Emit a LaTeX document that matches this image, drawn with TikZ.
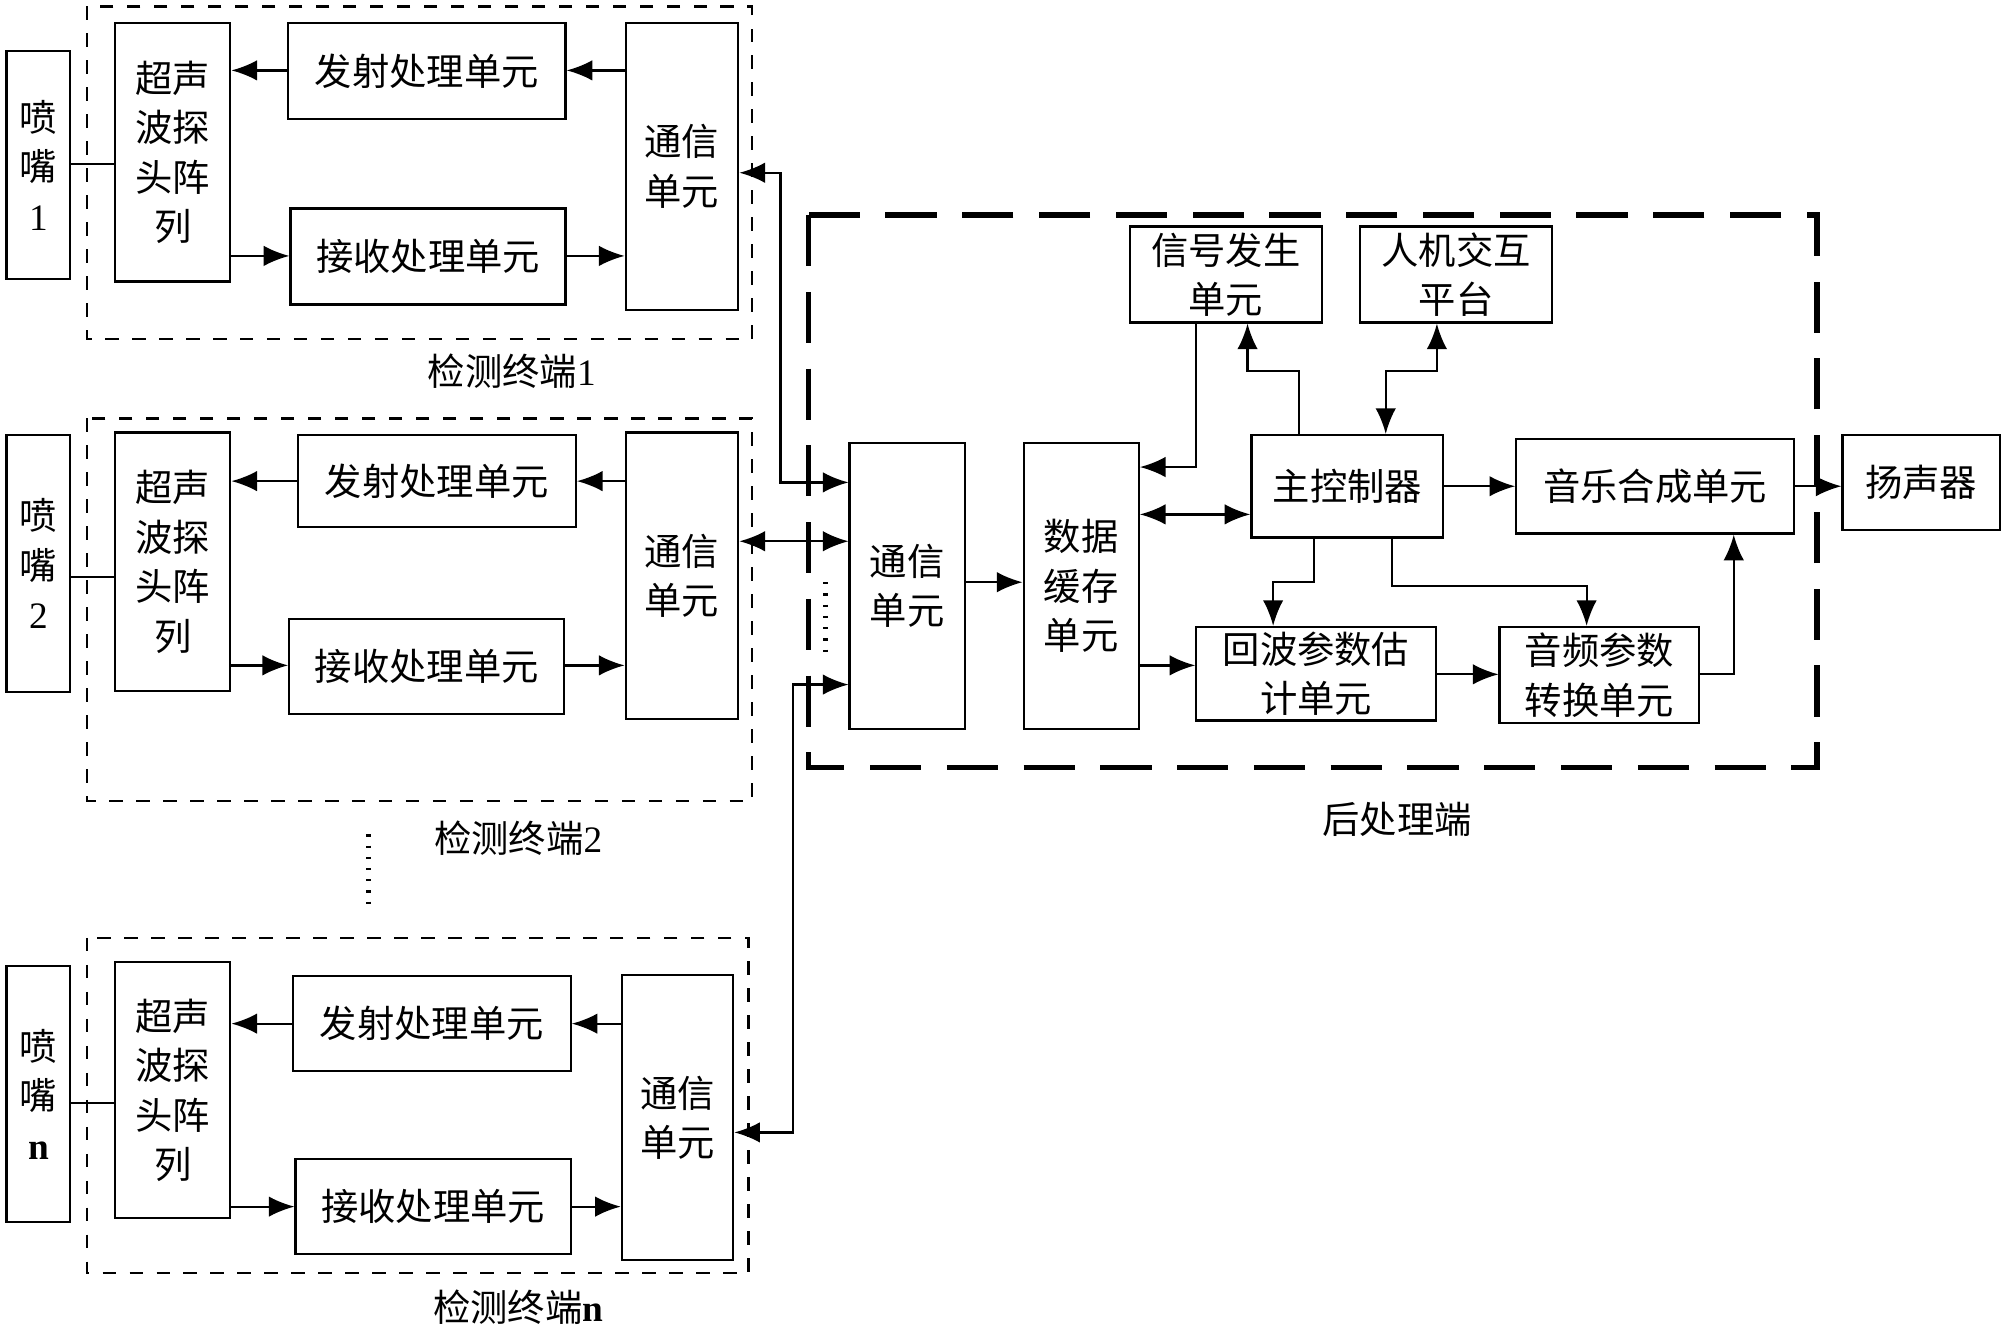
\documentclass[tikz,border=0pt]{standalone}
\usepackage{fontspec}
\setmainfont{Liberation Serif}
\newfontfamily\cjk{Noto Sans CJK SC}
\usetikzlibrary{arrows.meta}
\newcommand\bx[6]{\node[box,minimum width={(#4-#2)*0.1mm},minimum height={(#5-#3)*0.1mm}] (#1) at ({(#2+#4)/2},{(#3+#5)/2}) {#6};}
\begin{document}
\begin{tikzpicture}[x=0.1mm,y=-0.1mm,
 box/.style={draw,line width=0.5pt,inner sep=0pt,align=center,font=\cjk\fontsize{8.3}{11}\selectfont},
 lbl/.style={font=\cjk\fontsize{8.3}{11}\selectfont},
 arr/.style={line width=0.5pt,-{Latex[length=2mm,width=1.6mm]}},
 darr/.style={line width=0.5pt,{Latex[length=2mm,width=1.6mm]}-{Latex[length=2mm,width=1.6mm]}},
 ln/.style={line width=0.5pt},
 dbox/.style={draw,dashed,line width=0.5pt},
 bdbox/.style={draw,line width=1.2pt,dash pattern=on 4mm off 2mm}]
\useasboundingbox (0,0) rectangle (1567,1040);
% Terminal 1
\draw[dbox] (68,5) rectangle (588,265);
\bx{n1}{5}{40}{55}{218}{喷\\嘴\\{\rmfamily 1}}
\bx{p1}{90}{18}{180}{220}{超声\\波探\\头阵\\列}
\bx{e1}{225}{18}{442}{93}{发射处理单元}
\bx{r1}{227}{163}{442}{238}{接收处理单元}
\bx{c1}{489}{18}{577}{242}{通信\\单元}
\node[lbl] (l1) at (400,290) {检测终端{\rmfamily 1}};
\draw[arr] (c1.west |- 0,55) -- (e1.east |- 0,55);
\draw[arr] (e1.west |- 0,55) -- (p1.east |- 0,55);
\draw[arr] (p1.east |- 0,200) -- (r1.west |- 0,200);
\draw[arr] (r1.east |- 0,200) -- (c1.west |- 0,200);
\draw[ln] (n1.east |- 0,128) -- (p1.west |- 0,128);
% Terminal 2
\draw[dbox] (68,327) rectangle (588,626);
\bx{n2}{5}{340}{55}{541}{喷\\嘴\\{\rmfamily 2}}
\bx{p2}{90}{338}{180}{540}{超声\\波探\\头阵\\列}
\bx{e2}{233}{340}{450}{412}{发射处理单元}
\bx{r2}{226}{484}{441}{558}{接收处理单元}
\bx{c2}{489}{338}{577}{562}{通信\\单元}
\node[lbl] (l2) at (405,655) {检测终端{\rmfamily 2}};
\draw[arr] (c2.west |- 0,376) -- (e2.east |- 0,376);
\draw[arr] (e2.west |- 0,376) -- (p2.east |- 0,376);
\draw[arr] (p2.east |- 0,520) -- (r2.west |- 0,520);
\draw[arr] (r2.east |- 0,520) -- (c2.west |- 0,520);
\draw[ln] (n2.east |- 0,451) -- (p2.west |- 0,451);
\draw[ln,dotted,line width=1pt] (288,652) -- (288,708);
% Terminal n
\draw[dbox] (68,733) rectangle (585,995);
\bx{n3}{5}{755}{55}{955}{喷\\嘴\\{\rmfamily\bfseries n}}
\bx{p3}{90}{752}{180}{952}{超声\\波探\\头阵\\列}
\bx{e3}{229}{763}{446}{837}{发射处理单元}
\bx{r3}{231}{906}{446}{980}{接收处理单元}
\bx{c3}{486}{762}{573}{985}{通信\\单元}
\node[lbl] (l3) at (405,1022) {检测终端{\rmfamily\bfseries n}};
\draw[arr] (c3.west |- 0,800) -- (e3.east |- 0,800);
\draw[arr] (e3.west |- 0,800) -- (p3.east |- 0,800);
\draw[arr] (p3.east |- 0,943) -- (r3.west |- 0,943);
\draw[arr] (r3.east |- 0,943) -- (c3.west |- 0,943);
\draw[ln] (n3.east |- 0,862) -- (p3.west |- 0,862);
% Post processing
\draw[bdbox] (632,168) rectangle (1420,600);
\node[lbl] (lp) at (1092,640) {后处理端};
\bx{pc}{664}{346}{754}{570}{通信\\单元}
\bx{buf}{800}{346}{890}{570}{数据\\缓存\\单元}
\bx{sg}{883}{177}{1033}{252}{信号发生\\单元}
\bx{hmi}{1063}{177}{1213}{252}{人机交互\\平台}
\bx{mc}{978}{340}{1128}{420}{主控制器}
\bx{ms}{1185}{343}{1402}{417}{音乐合成单元}
\bx{sp}{1440}{340}{1563}{414}{扬声器}
\bx{ec}{935}{490}{1122}{563}{回波参数估\\计单元}
\bx{ap}{1172}{490}{1328}{565}{音频参数\\转换单元}
\draw[darr] (c1.east |- 0,135) -- (610,135) -- (610,377) -- (pc.west |- 0,377);
\draw[darr] (c2.east |- 0,423) -- (pc.west |- 0,423);
\draw[darr] (c3.east |- 0,885) -- (620,885) -- (620,535) -- (pc.west |- 0,535);
\draw[ln,dotted,line width=1pt] (645,455) -- (645,515);
\draw[arr] (pc.east |- 0,455) -- (buf.west |- 0,455);
\draw[arr] (sg.south -| 935,0) -- (935,365) -- (buf.east |- 0,365);
\draw[arr] (mc.north -| 1015,0) -- (1015,290) -- (975,290) -- (sg.south -| 975,0);
\draw[darr] (hmi.south -| 1123,0) -- (1123,290) -- (1083,290) -- (mc.north -| 1083,0);
\draw[darr] (buf.east |- 0,402) -- (mc.west |- 0,402);
\draw[arr] (mc.east |- 0,380) -- (ms.west |- 0,380);
\draw[arr] (ms.east |- 0,380) -- (sp.west |- 0,380);
\draw[arr] (buf.east |- 0,520) -- (ec.west |- 0,520);
\draw[arr] (mc.south -| 1027,0) -- (1027,455) -- (995,455) -- (ec.north -| 995,0);
\draw[arr] (mc.south -| 1088,0) -- (1088,458) -- (1240,458) -- (ap.north -| 1240,0);
\draw[arr] (ec.east |- 0,527) -- (ap.west |- 0,527);
\draw[arr] (ap.east |- 0,527) -- (1355,527) -- (ms.south -| 1355,0);
\end{tikzpicture}
\end{document}
